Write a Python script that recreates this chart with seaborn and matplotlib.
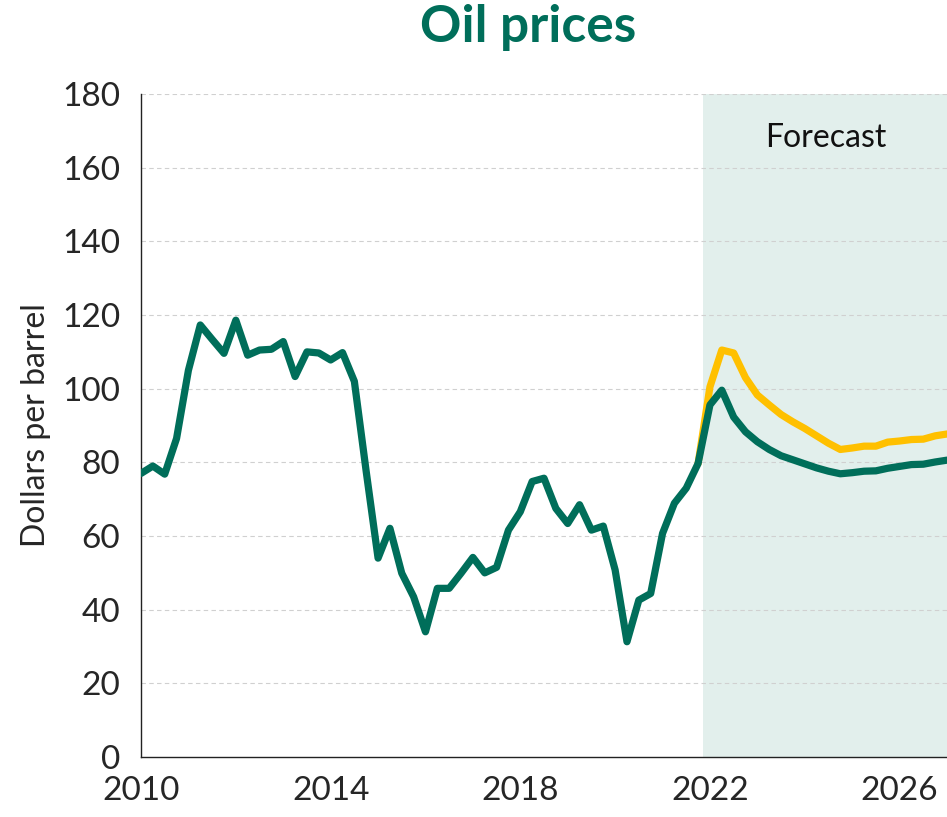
import numpy as np
import pandas as pd
import matplotlib
matplotlib.use("Agg")
import matplotlib.pyplot as plt
import seaborn as sns

# ---- data (quarterly, starting 2010 Q1) ----
start_year = 2010
green_values = [77.0, 79.0, 76.8, 86.5, 105.0, 117.3, 113.4, 109.6, 118.6, 109.1,
                110.5, 110.7, 112.8, 103.3, 110.0, 109.7, 107.8, 109.8, 102.0, 77.5,
                54.0, 62.1, 49.9, 43.5, 34.0, 45.8, 45.8, 49.9, 54.2, 50.0,
                51.5, 61.6, 66.6, 74.8, 75.7, 67.5, 63.4, 68.5, 61.6, 62.7,
                50.8, 31.3, 42.6, 44.4, 60.7, 68.9, 73.0, 79.7, 95.6, 99.6,
                92.3, 88.3, 85.6, 83.5, 81.8, 80.7, 79.6, 78.5, 77.6, 76.9,
                77.2, 77.6, 77.7, 78.4, 78.9, 79.4, 79.5, 80.1, 80.6]
yellow_start_index = 47
yellow_values = [79.7, 100.5, 110.5, 109.7, 103.0, 98.3, 95.6, 93.0, 91.0, 89.2,
                 87.2, 85.2, 83.5, 83.9, 84.4, 84.4, 85.5, 85.8, 86.2, 86.3,
                 87.2, 87.7]
forecast_start = 2021.86
forecast_label = "Forecast"
title = "Oil prices"
y_label = "Dollars per barrel"
x_ticklabels = [2010, 2014, 2018, 2022, 2026]

green_x = [start_year + i * 0.25 for i in range(len(green_values))]
yellow_x = [start_year + (yellow_start_index + i) * 0.25 for i in range(len(yellow_values))]
df_green = pd.DataFrame({"x": green_x, "y": green_values})
df_yellow = pd.DataFrame({"x": yellow_x, "y": yellow_values})

GREEN = "#006E5A"
YELLOW = "#FFC000"
SHADE = "#E2EFEC"

sns.set_style("white")
plt.rcParams["font.family"] = ["Lato", "DejaVu Sans"]

fig = plt.figure(figsize=(9.47, 8.17), dpi=100)
ax = fig.add_axes([0.1489, 0.0734, 0.8511, 0.8115])

ax.axvspan(forecast_start, 2027, color=SHADE, lw=0, zorder=0)

for yv in range(20, 181, 20):
    ax.axhline(yv, color="#d0d0d0", lw=0.8, ls=(0, (4, 3)), zorder=1)

sns.lineplot(data=df_yellow, x="x", y="y", ax=ax, color=YELLOW, lw=5.2, zorder=3)
sns.lineplot(data=df_green, x="x", y="y", ax=ax, color=GREEN, lw=5.2, zorder=4)

ax.set_xlim(2010, 2027)
ax.set_ylim(0, 180)
ax.set_yticks(range(0, 181, 20))
ax.set_xticks(range(2010, 2028))
ax.set_xticklabels([str(y) if y in x_ticklabels else "" for y in range(2010, 2028)])
ax.tick_params(axis="x", length=9, width=1, color="#333333", labelsize=24, pad=5)
ax.tick_params(axis="y", length=8, width=1, color="#555555", labelsize=24, pad=7)
ax.set_xlabel("")
ax.set_ylabel(y_label, fontsize=23, labelpad=8)

for side in ["top", "right"]:
    ax.spines[side].set_visible(False)
for side in ["left", "bottom"]:
    ax.spines[side].set_color("#222222")
    ax.spines[side].set_linewidth(1.0)

ax.text(2024.45, 168, forecast_label, fontsize=23, ha="center", va="center", color="#111111")

fig.text(0.5575, 0.966, title, fontsize=37, fontweight="bold", color=GREEN,
         ha="center", va="center")

fig.savefig("out.png", dpi=100)
